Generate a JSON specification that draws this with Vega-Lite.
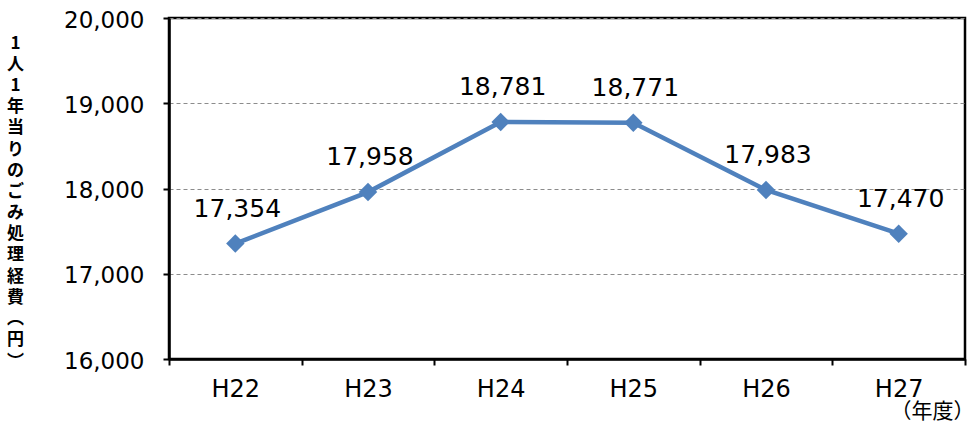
{
  "$schema": "https://vega.github.io/schema/vega-lite/v6.json",
  "autosize": "none",
  "width": 796,
  "height": 341,
  "padding": {"left": 169, "top": 18, "right": 9, "bottom": 68},
  "background": "white",
  "data": {"values": [
    {"year": "H22", "cost": 17354},
    {"year": "H23", "cost": 17958},
    {"year": "H24", "cost": 18781},
    {"year": "H25", "cost": 18771},
    {"year": "H26", "cost": 17983},
    {"year": "H27", "cost": 17470}
  ]},
  "encoding": {
    "x": {
      "field": "year", "type": "nominal", "sort": null,
      "scale": {"type": "band", "paddingInner": 0, "paddingOuter": 0},
      "axis": {
        "title": "（年度）",
        "titleFont": "Noto Sans CJK JP", "titleFontSize": 21, "titleFontWeight": "normal", "titleColor": "black",
        "titleX": 763, "titleY": 58, "titleAlign": "center", "titleBaseline": "alphabetic", "titleAnchor": null,
        "labelAngle": 0, "labelFont": "DejaVu Sans", "labelFontSize": 24, "labelColor": "black",
        "labelBaseline": "alphabetic", "labelPadding": 31,
        "tickBand": "extent", "tickSize": 6, "tickColor": "black", "tickWidth": 2,
        "domainColor": "black", "domainWidth": 2.5, "grid": false
      }
    },
    "y": {
      "field": "cost", "type": "quantitative",
      "scale": {"domain": [16000, 20000], "nice": false, "zero": false},
      "axis": {
        "values": [16000, 17000, 18000, 19000, 20000],
        "format": ",d",
        "title": ["1","人","1","年","当","り","の","ご","み","処","理","経","費","︵","円","︶"],
        "titleAngle": 0, "titleX": -154, "titleY": 17, "titleAlign": "center", "titleBaseline": "top",
        "titleAnchor": null,
        "titleFont": "Noto Sans CJK JP", "titleFontSize": 17, "titleFontWeight": "bold", "titleColor": "black",
        "titleLineHeight": 21.2,
        "labelFont": "DejaVu Sans", "labelFontSize": 23, "labelColor": "black",
        "labelBaseline": "alphabetic", "labelOffset": 9, "labelPadding": 19,
        "tickSize": 6, "tickColor": "black", "tickWidth": 2,
        "domainColor": "black", "domainWidth": 2.5,
        "grid": true, "gridColor": "#8c8c8c", "gridDash": [4, 3], "gridWidth": 1
      }
    }
  },
  "layer": [
    {
      "mark": {"type": "line", "color": "#4F81BD", "strokeWidth": 4.5,
        "point": {"shape": "diamond", "size": 340, "filled": true, "color": "#4F81BD", "opacity": 1}}
    },
    {
      "mark": {"type": "text", "font": "DejaVu Sans", "fontSize": 25, "color": "black", "baseline": "alphabetic", "dy": -27, "dx": 2},
      "encoding": {"text": {"field": "cost", "type": "quantitative", "format": ",d"}}
    }
  ],
  "config": {
    "view": {"stroke": "black", "strokeWidth": 2.5}
  }
}
